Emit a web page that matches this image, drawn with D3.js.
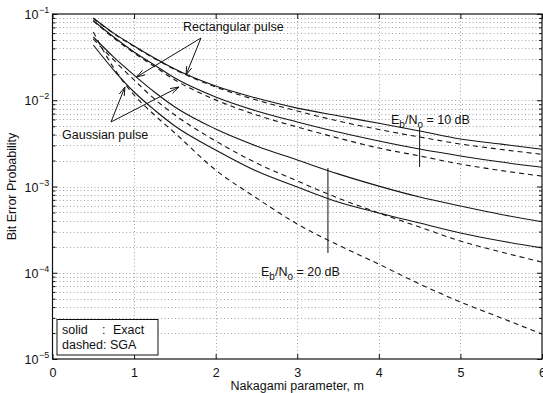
<!DOCTYPE html>
<html><head><meta charset="utf-8">
<script src="https://cdn.jsdelivr.net/npm/d3@7"></script>
<style>body{margin:0;background:#fff}svg{display:block}text{font-family:"Liberation Sans",Arial,Helvetica,sans-serif;fill:#111}</style>
</head><body><svg id="c" width="543" height="393"></svg>
<script>
const mValues = [0.5,0.75,1,1.25,1.5,2,2.5,3,3.5,4,4.5,5,5.5,6];
// Eb/No = 10 dB
const rect10Exact = [0.090,0.060,0.0426,0.0309,0.0230,0.0146,0.0106,0.0081,0.0066,0.0054,0.0044,0.00355,0.0031,0.0027];
const rect10SGA   = [0.0887,0.0594,0.0420,0.0305,0.0227,0.01424,0.01007,0.00751,0.00575,0.00458,0.00375,0.00311,0.00269,0.00236];
const gauss10Exact= [0.0841,0.0541,0.0363,0.0256,0.0181,0.0109,0.00751,0.00560,0.00428,0.00337,0.00272,0.00226,0.00192,0.00167];
const gauss10SGA  = [0.0829,0.0527,0.0353,0.0246,0.0172,0.0101,0.00675,0.00490,0.00365,0.00279,0.00226,0.00182,0.00153,0.00132];
// Eb/No = 20 dB
const rect20Exact = [0.0541,0.0317,0.0196,0.01246,0.00835,0.00464,0.00295,0.00203,0.00140,0.00101,0.000755,0.000594,0.000474,0.000391];
const rect20SGA   = [0.0513,0.0293,0.0172,0.01034,0.00675,0.00337,0.00187,0.00116,0.000736,0.000493,0.000339,0.000233,0.000174,0.000133];
const gauss20Exact= [0.0437,0.0224,0.01246,0.00771,0.00503,0.00265,0.00151,0.000987,0.000661,0.000493,0.000377,0.000289,0.000233,0.000194];
const gauss20SGA  = [0.0618,0.0237,0.0115,0.00675,0.00417,0.00155,0.000736,0.000367,0.000210,0.000126,0.0000741,0.0000458,0.0000299,0.0000195];

const xTicks = [0,1,2,3,4,5,6];
const yExponents = [-1,-2,-3,-4,-5];

const series = [
  {v: rect10Exact, dashed:false},{v: rect10SGA, dashed:true},
  {v: gauss10Exact, dashed:false},{v: gauss10SGA, dashed:true},
  {v: rect20Exact, dashed:false},{v: rect20SGA, dashed:true},
  {v: gauss20Exact, dashed:false},{v: gauss20SGA, dashed:true}
];

const svg = d3.select('#c');
const L=52.5, R=542, T=14, B=359;
const x = d3.scaleLinear().domain([0,6]).range([L,R]);
const y = d3.scaleLog().domain([1e-5,1e-1]).range([B,T]);

// grid
const g = svg.append('g');
const minorVals = [];
for (let e=-5;e<-1+0.1;e++){ for(let k=1;k<10;k++){ const v=k*Math.pow(10,e); if(v<=1e-1+1e-12 && v>=1e-5) minorVals.push(v);} }
g.selectAll('line.h').data(minorVals.filter(v=>v>1e-5*1.01 && v<1e-1*0.99)).enter().append('line')
  .attr('x1',L).attr('x2',R).attr('y1',d=>Math.round(y(d))+0.5).attr('y2',d=>Math.round(y(d))+0.5)
  .attr('stroke','#a4a4a4').attr('stroke-width',1).attr('stroke-dasharray','1,2.5');
g.selectAll('line.v').data(xTicks.filter(t=>t>0&&t<6)).enter().append('line')
  .attr('x1',d=>Math.round(x(d))+0.5).attr('x2',d=>Math.round(x(d))+0.5).attr('y1',T).attr('y2',B)
  .attr('stroke','#a4a4a4').attr('stroke-width',1).attr('stroke-dasharray','1,2.5');

// axes with inward ticks
const xa = svg.append('g').attr('transform',`translate(0,${B})`)
  .call(d3.axisBottom(x).tickValues(xTicks).tickSize(-5).tickPadding(9).tickFormat(d3.format('d')));
xa.select('.domain').remove();
xa.selectAll('text').attr('font-size',12.5).attr('fill','#111').style('font-family','"Liberation Sans",Arial,sans-serif');
const xt = svg.append('g').attr('transform',`translate(0,${T})`)
  .call(d3.axisTop(x).tickValues(xTicks).tickSize(-5).tickFormat(''));
xt.select('.domain').remove();
const yl = svg.append('g').attr('transform',`translate(${L},0)`)
  .call(d3.axisLeft(y).tickValues(minorVals).tickSize(-3).tickFormat(''));
yl.select('.domain').remove();
yl.selectAll('.tick line').filter(d=>yExponents.some(e=>Math.abs(Math.log10(d)-e)<1e-6)).attr('x2',5);
const yr = svg.append('g').attr('transform',`translate(${R},0)`)
  .call(d3.axisRight(y).tickValues(minorVals).tickSize(-3).tickFormat(''));
yr.select('.domain').remove();
yr.selectAll('.tick line').filter(d=>yExponents.some(e=>Math.abs(Math.log10(d)-e)<1e-6)).attr('x2',-5);
svg.selectAll('.tick line').attr('stroke','#111');

// y tick labels 10^e
yExponents.forEach(e=>{
  const yy = y(Math.pow(10,e));
  svg.append('text').attr('x',38.5).attr('y',yy+5).attr('text-anchor','end').attr('font-size',12.5).text('10');
  svg.append('text').attr('x',39).attr('y',yy-1).attr('font-size',9).text('\u2212'+(-e));
});

// frame
svg.append('rect').attr('x',L).attr('y',T).attr('width',R-L).attr('height',B-T)
  .attr('fill','none').attr('stroke','#111').attr('stroke-width',1.2);

// curves
const line = d3.line().x((d,i)=>x(mValues[i])).y(d=>y(d)).curve(d3.curveMonotoneX);
svg.append('g').selectAll('path').data(series).enter().append('path')
  .attr('d',d=>line(d.v)).attr('fill','none').attr('stroke','#151515').attr('stroke-width',1.1)
  .attr('stroke-dasharray',d=>d.dashed?'5,4':null);

// axis titles
svg.append('text').attr('x',(L+R)/2).attr('y',390).attr('text-anchor','middle').attr('font-size',12.5).text('Nakagami parameter, m');
svg.append('text').attr('transform',`translate(16,${(T+B)/2}) rotate(-90)`).attr('text-anchor','middle').attr('font-size',12.5).text('Bit Error Probability');

// annotations with arrows
function arrow(x0,y0,x1,y1){
  svg.append('line').attr('x1',x0).attr('y1',y0).attr('x2',x1).attr('y2',y1).attr('stroke','#111').attr('stroke-width',1);
  const a=Math.atan2(y1-y0,x1-x0), len=9, w=0.3;
  const p1=[x1-len*Math.cos(a-w),y1-len*Math.sin(a-w)], p2=[x1-len*Math.cos(a+w),y1-len*Math.sin(a+w)];
  svg.append('path').attr('d',`M${p1}L${x1},${y1}L${p2}`).attr('fill','none').attr('stroke','#111').attr('stroke-width',1);
}
const rectArrow = {from:[1.82,0.0527], to:[[1.03,0.0186],[1.636,0.0196]]};
const gaussArrow = {from:[0.717,0.0056], to:[[0.888,0.01424],[1.55,0.01424]]};
[rectArrow,gaussArrow].forEach(a=>a.to.forEach(t=>arrow(x(a.from[0]),y(a.from[1]),x(t[0]),y(t[1]))));
svg.append('text').attr('x',183).attr('y',31).attr('font-size',12.5).text('Rectangular pulse');
svg.append('text').attr('x',62).attr('y',139).attr('font-size',12.5).text('Gaussian pulse');

function ebLabel(xx,yy,db){
  const t=svg.append('text').attr('x',xx).attr('y',yy).attr('font-size',12.5);
  t.append('tspan').text('E');
  t.append('tspan').attr('dy',4).attr('font-size',10).text('b');
  t.append('tspan').attr('dy',-4).text('/N');
  t.append('tspan').attr('dy',4).attr('font-size',10).text('o');
  t.append('tspan').attr('dy',-4).text(' = '+db+' dB');
}
ebLabel(391,124,10);
ebLabel(261,276,20);
// vertical markers
svg.append('line').attr('x1',x(4.5)).attr('x2',x(4.5)).attr('y1',128).attr('y2',167).attr('stroke','#111');
svg.append('line').attr('x1',x(3.376)).attr('x2',x(3.376)).attr('y1',168).attr('y2',253).attr('stroke','#111');

// legend
svg.append('rect').attr('x',57).attr('y',319.5).attr('width',101).attr('height',35.5).attr('fill','#fff').attr('stroke','#111');
svg.append('text').attr('x',62).attr('y',334).attr('font-size',12.5).text('solid');
svg.append('text').attr('x',102).attr('y',334).attr('font-size',12.5).text(':');
svg.append('text').attr('x',113).attr('y',334).attr('font-size',12.5).text('Exact');
svg.append('text').attr('x',62).attr('y',349).attr('font-size',12.5).text('dashed: SGA');
</script></body></html>
